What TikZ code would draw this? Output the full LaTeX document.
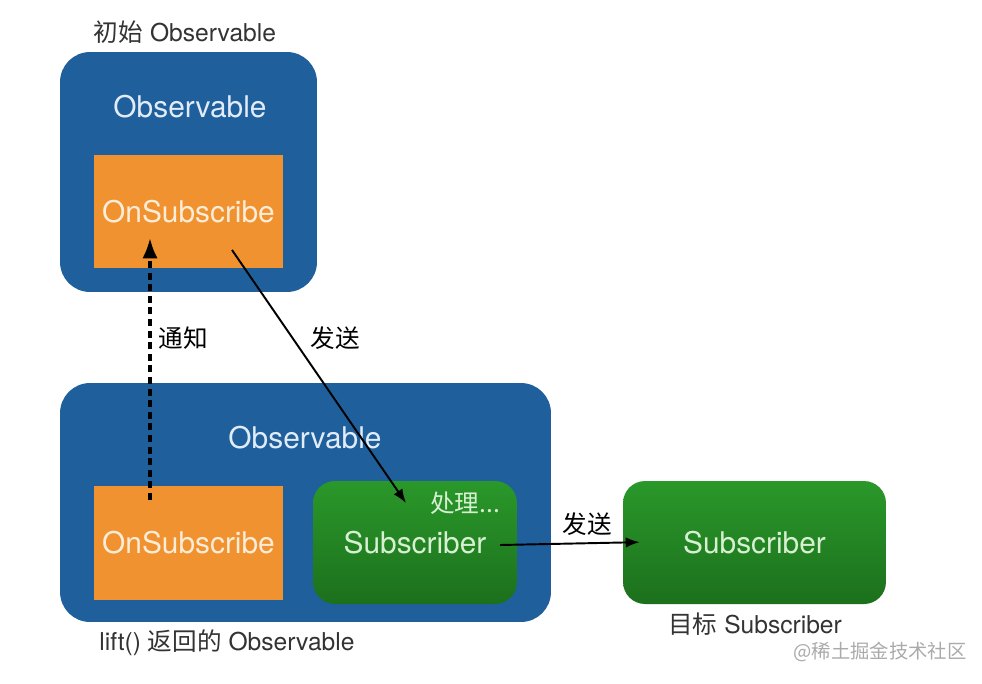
\documentclass[tikz,border=0pt]{standalone}
\usepackage{fontspec}
\setmainfont{TeX Gyre Heros}
\newfontfamily\cjk{Noto Sans CJK SC}
\usetikzlibrary{arrows.meta}
\definecolor{obsblue}{RGB}{31,96,156}
\definecolor{onsorange}{RGB}{240,146,48}
\definecolor{subtop}{RGB}{42,152,42}
\definecolor{subbot}{RGB}{28,112,28}
\definecolor{bluetext}{RGB}{225,236,248}
\definecolor{orangetext}{RGB}{253,236,215}
\definecolor{greentext}{RGB}{215,240,210}
\definecolor{marktext}{RGB}{170,170,170}

\begin{document}
\begin{tikzpicture}[x=0.02cm,y=-0.02cm,>=Latex,
  obsbox/.style={fill=obsblue,rounded corners=0.6cm,minimum width=#1},
  onsbox/.style={fill=onsorange,minimum width=3.78cm,text=orangetext,font=\fontsize{17}{20}\selectfont},
  subbox/.style={top color=subtop,bottom color=subbot,rounded corners=0.44cm,
    minimum height=2.46cm,minimum width=#1,text=greentext,font=\fontsize{17}{20}\selectfont},
  boxtitle/.style={text=bluetext,font=\fontsize{17}{20}\selectfont},
  caption/.style={text=black!80,font=\fontsize{14}{17}\selectfont},
  send/.style={->,line width=1.1pt},
  notify/.style={->,line width=1.9pt,dash pattern=on 4pt off 2.6pt}]
\useasboundingbox (0,0) rectangle (982,683);
% initial observable
\node[obsbox=5.14cm,minimum height=4.8cm] (obs1) at (188.5,172) {};
\node[boxtitle] (obs1t) at (190,107) {Observable};
\node[onsbox,minimum height=2.26cm] (ons1) at (188.5,211.5) {OnSubscribe};
\node[caption] (cap1) at (185,32) {{\cjk 初始} Observable};
% observable returned by lift()
\node[obsbox=9.82cm,minimum height=4.78cm] (obs2) at (305.5,502.5) {};
\node[boxtitle] (obs2t) at (305,438) {Observable};
\node[onsbox,minimum height=2.28cm] (ons2) at (188.5,543) {OnSubscribe};
\node[subbox=4.08cm] (sub1) at (415,542.5) {Subscriber};
\node[text=greentext,font=\cjk\fontsize{14}{17}\selectfont] (work) at (465,503) {处理...};
\node[caption] (cap2) at (227,643) {lift() {\cjk 返回的} Observable};
% target subscriber
\node[subbox=5.26cm] (sub2) at (754.5,542.5) {Subscriber};
\node[caption] (cap3) at (755,624) {{\cjk 目标} Subscriber};
\node[text=marktext,font=\cjk\fontsize{11}{13}\selectfont] (mark) at (880,652) {@稀土掘金技术社区};
% arrows
\coordinate (nfrom) at (150,500);
\coordinate (nto) at (150,238);
\coordinate (sfrom) at (232,250);
\coordinate (sto) at (406,503);
\coordinate (tfrom) at (500,545);
\draw[notify] (nfrom) -- (nto);
\draw[send] (sfrom) -- (sto);
\draw[send,shorten >=-0.34cm] (tfrom) -- (sub2.west);
\node[font=\cjk\fontsize{14}{17}\selectfont] (nlab) at (183,338) {通知};
\node[font=\cjk\fontsize{14}{17}\selectfont] (slab) at (335,338) {发送};
\node[font=\cjk\fontsize{14}{17}\selectfont] (tlab) at (587,524) {发送};
\end{tikzpicture}
\end{document}
